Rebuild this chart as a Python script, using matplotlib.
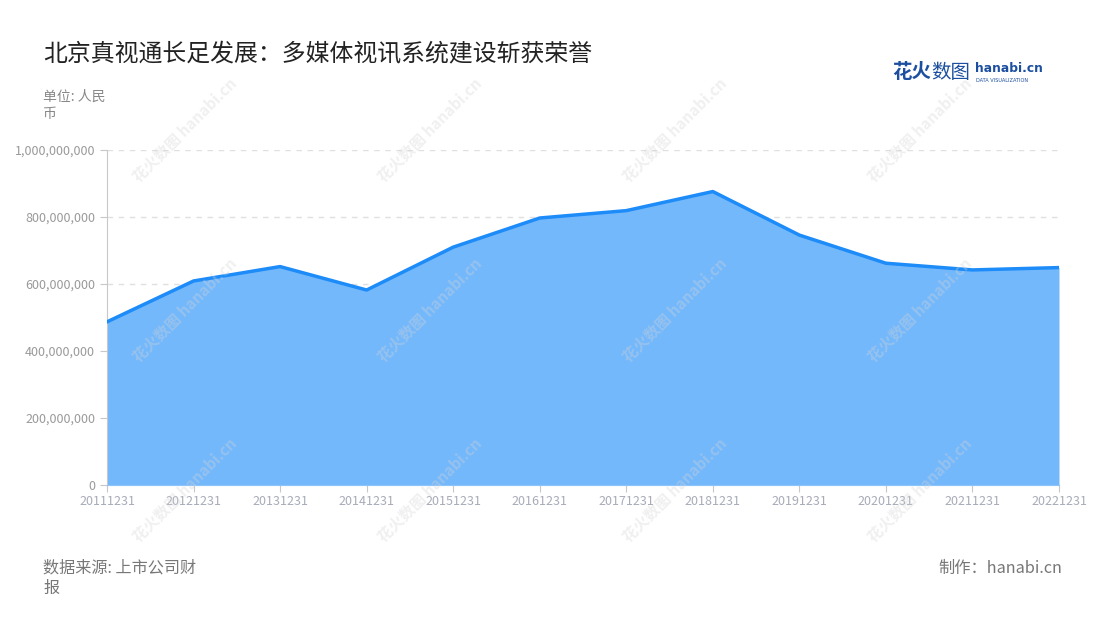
import numpy as np
import matplotlib.pyplot as plt
from matplotlib.ticker import FuncFormatter

plt.rcParams['font.family'] = ['Noto Sans CJK SC', 'DejaVu Sans']

dates = ['20111231', '20121231', '20131231', '20141231', '20151231', '20161231',
         '20171231', '20181231', '20191231', '20201231', '20211231', '20221231']
values = [487e6, 609e6, 652e6, 582e6, 710e6, 797e6,
          819e6, 876e6, 746e6, 662e6, 642e6, 649e6]
y_ticks = [0, 200e6, 400e6, 600e6, 800e6, 1000e6]

fig = plt.figure(figsize=(11, 6.2), dpi=100)
ax = fig.add_axes([107 / 1100, 1 - 485 / 620, 952 / 1100, 335 / 620])

xs = np.arange(len(dates))
ax.fill_between(xs, values, 0, color='#74b8fc', lw=0, zorder=2)
ax.plot(xs, values, color='#1d8cf8', lw=2.5, zorder=3, solid_joinstyle='round')

ax.set_xlim(0, len(dates) - 1)
ax.set_ylim(0, 1e9)
ax.set_xticks(xs)
ax.set_xticklabels(dates)
ax.set_yticks(y_ticks)
ax.yaxis.set_major_formatter(FuncFormatter(lambda v, p: '{:,.0f}'.format(v)))
ax.grid(axis='y', color='#e0e0e0', ls=(0, (4, 4)), lw=1, zorder=1)

for s in ['top', 'right']:
    ax.spines[s].set_visible(False)
ax.spines['left'].set_color('#c8c8c8')
ax.spines['bottom'].set_color('#8cc4fa')
ax.tick_params(axis='y', colors='#c8c8c8', labelcolor='#999999', labelsize=9, length=5)
ax.tick_params(axis='x', colors='#c8c8c8', labelcolor='#a8abb8', labelsize=9, length=5, pad=2)

# faint watermarks
for wx in [185, 430, 675, 920]:
    for wy in [130, 310, 490]:
        fig.text(wx / 1100, 1 - wy / 620, '花火数图 hanabi.cn', rotation=45, fontsize=11,
                 color='#d4d4d4', alpha=0.35, ha='center', va='center', fontweight='bold')

fig.text(43 / 1100, 1 - 55 / 620, '北京真视通长足发展：多媒体视讯系统建设斩获荣誉',
         fontsize=17.2, color='#222222', va='center')
fig.text(43 / 1100, 1 - 97 / 620, '单位: 人民', fontsize=10, color='#888888', va='center')
fig.text(43 / 1100, 1 - 114 / 620, '币', fontsize=10, color='#888888', va='center')

# logo
fig.text(892 / 1100, 1 - 72 / 620, '花火', fontsize=14, color='#1c4fa0', va='center', fontweight='bold')
fig.text(931 / 1100, 1 - 72 / 620, '数图', fontsize=14, color='#1c4fa0', va='center')
fig.text(975 / 1100, 1 - 69 / 620, 'hanabi.cn', fontsize=8.8, color='#1c4fa0', va='center',
         fontweight='bold', family='DejaVu Sans')
fig.text(976 / 1100, 1 - 80 / 620, 'DATA VISUALIZATION', fontsize=3.6, color='#1c4fa0', va='center',
         family='DejaVu Sans')

fig.text(43 / 1100, 1 - 568 / 620, '数据来源: 上市公司财', fontsize=11.6, color='#777777', va='center')
fig.text(43 / 1100, 1 - 588 / 620, '报', fontsize=11.6, color='#777777', va='center')
fig.text(1062 / 1100, 1 - 568 / 620, '制作：hanabi.cn', fontsize=11.7, color='#777777', va='center', ha='right')

fig.savefig('out.png', dpi=100)
